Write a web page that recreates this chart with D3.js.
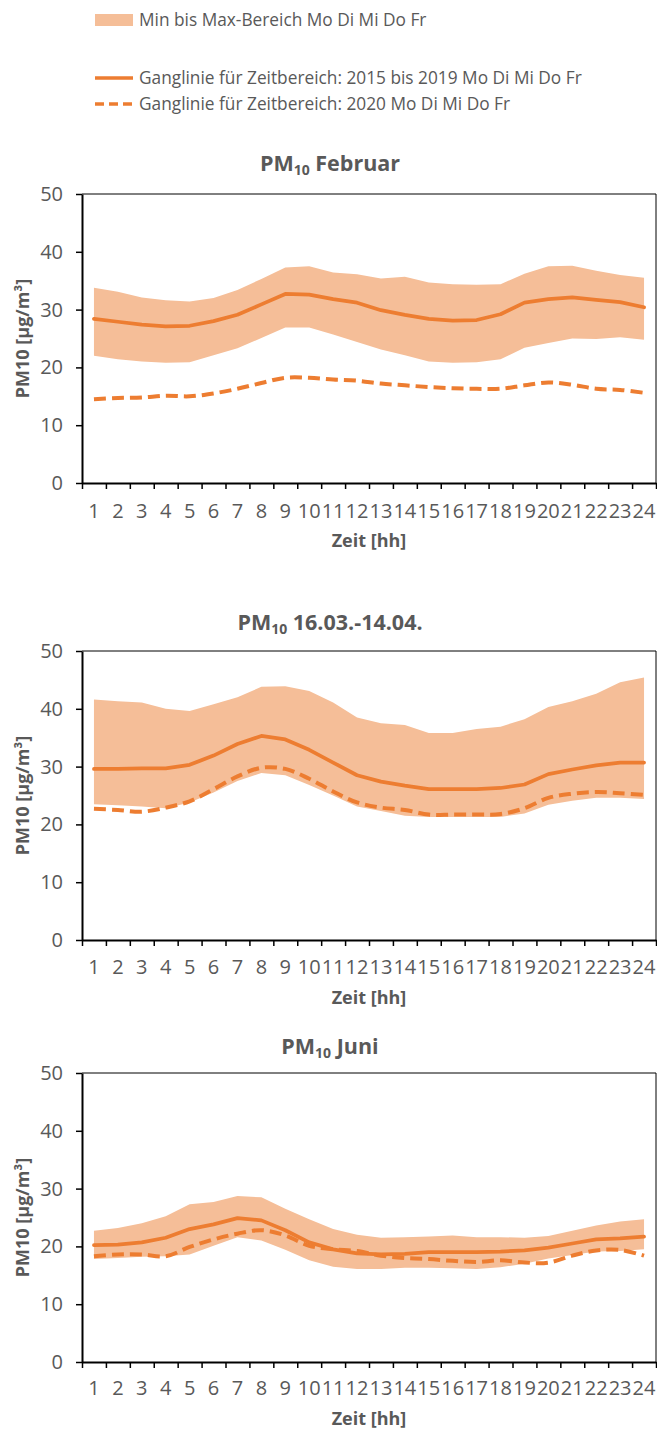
<!DOCTYPE html>
<html>
<head>
<meta charset="utf-8">
<script src="https://cdn.jsdelivr.net/npm/d3@7"></script>
<style>
  body { margin: 0; background: #fff; }
  svg { display: block; font-family: "Open Sans", sans-serif; }
</style>
</head>
<body>
<svg id="chart" width="657" height="1432"></svg>
<script>
const hours = [1,2,3,4,5,6,7,8,9,10,11,12,13,14,15,16,17,18,19,20,21,22,23,24];
const yTicks = [0, 10, 20, 30, 40, 50];

// PM10 Februar
const febMax  = [33.8,33.1,32.1,31.6,31.4,32.0,33.4,35.3,37.3,37.5,36.4,36.1,35.4,35.7,34.7,34.4,34.3,34.4,36.2,37.5,37.6,36.7,36.0,35.5];
const febMin  = [22.0,21.4,21.0,20.8,20.9,22.1,23.3,25.1,26.9,26.9,25.7,24.4,23.1,22.1,21.0,20.8,20.9,21.4,23.4,24.2,25.0,24.9,25.2,24.8];
const febMean = [28.4,27.9,27.4,27.1,27.2,28.0,29.1,30.9,32.7,32.6,31.8,31.2,29.9,29.1,28.4,28.1,28.2,29.2,31.2,31.8,32.1,31.7,31.3,30.4];
const feb2020 = [14.5,14.7,14.8,15.1,15.0,15.5,16.3,17.3,18.2,18.2,17.9,17.7,17.2,16.9,16.6,16.4,16.3,16.3,16.9,17.4,17.0,16.3,16.1,15.6];

// PM10 16.03.-14.04.
const marMax  = [41.6,41.3,41.1,40.0,39.6,40.8,42.0,43.8,43.9,43.1,41.1,38.5,37.5,37.2,35.8,35.8,36.5,36.9,38.2,40.3,41.3,42.6,44.6,45.4];
const marMin  = [23.5,23.3,23.1,22.8,23.8,25.5,27.5,28.9,28.5,26.8,25.0,23.1,22.3,21.5,21.3,21.3,21.3,21.3,21.9,23.4,24.1,24.6,24.6,24.4];
const marMean = [29.6,29.6,29.7,29.7,30.3,31.9,33.9,35.3,34.7,32.9,30.7,28.5,27.4,26.7,26.1,26.1,26.1,26.3,26.9,28.7,29.5,30.2,30.7,30.7];
const mar2020 = [22.7,22.5,22.2,22.9,24.0,26.1,28.3,29.8,29.6,27.9,25.7,23.8,22.9,22.5,21.7,21.7,21.7,21.8,22.8,24.6,25.3,25.6,25.4,25.1];

// PM10 Juni
const junMax  = [22.7,23.2,24.0,25.2,27.3,27.7,28.7,28.5,26.5,24.7,23.0,22.0,21.5,21.6,21.7,21.9,21.6,21.6,21.5,21.8,22.7,23.6,24.3,24.7];
const junMin  = [17.8,18.0,18.2,18.3,18.6,20.1,21.6,21.0,19.4,17.6,16.5,16.1,16.1,16.3,16.3,16.2,16.1,16.4,17.0,17.9,18.5,19.1,19.2,19.5];
const junMean = [20.2,20.3,20.7,21.5,23.0,23.8,24.9,24.5,22.8,20.7,19.5,18.8,18.6,18.7,19.0,19.0,19.0,19.1,19.3,19.8,20.5,21.2,21.4,21.7];
const jun2020 = [18.3,18.6,18.6,18.3,19.9,21.2,22.2,22.8,21.9,20.1,19.5,19.2,18.4,18.0,17.8,17.5,17.3,17.6,17.2,17.2,18.4,19.3,19.4,18.4];

const legendLabels = [
  "Min bis Max-Bereich Mo Di Mi Do Fr",
  "Ganglinie für Zeitbereich: 2015 bis 2019 Mo Di Mi Do Fr",
  "Ganglinie für Zeitbereich: 2020 Mo Di Mi Do Fr"
];

const lineColor = "#ED7D31";
const bandColor = "#F5BE98";
const textColor = "#595959";

const svg = d3.select("#chart");

// legend
const legend = svg.append("g");
legend.append("rect")
  .attr("x", 95).attr("y", 14).attr("width", 38).attr("height", 12)
  .attr("fill", bandColor);
legend.append("line")
  .attr("x1", 95).attr("x2", 133).attr("y1", 78).attr("y2", 78)
  .attr("stroke", lineColor).attr("stroke-width", 3.5);
legend.append("line")
  .attr("x1", 95).attr("x2", 133).attr("y1", 104).attr("y2", 104)
  .attr("stroke", lineColor).attr("stroke-width", 3.5)
  .attr("stroke-dasharray", "9,5");
[20, 78, 104].forEach((y, i) => {
  legend.append("text")
    .attr("x", 139).attr("y", y).attr("dy", "0.35em")
    .attr("font-size", "17.3px").attr("fill", textColor)
    .text(legendLabels[i]);
});

function drawChart(cfg) {
  const left = 82, right = 656;
  const x = d3.scaleBand().domain(hours).range([left, right]);
  const xEdge = d3.scaleLinear().domain([0, 24]).range([left, right]);
  const y = d3.scaleLinear().domain([0, 50]).range([cfg.bottom, cfg.top]);
  const cx = d => x(d) + x.bandwidth() / 2;

  const g = svg.append("g");

  // band
  const area = d3.area()
    .x((d, i) => cx(hours[i]))
    .y0((d, i) => y(cfg.min[i]))
    .y1((d, i) => y(cfg.max[i]));
  g.append("path").datum(cfg.max).attr("d", area).attr("fill", bandColor);

  // mean 2015-2019
  const line = d3.line().x((d, i) => cx(hours[i])).y(d => y(d));
  g.append("path").datum(cfg.mean)
    .attr("d", line)
    .attr("fill", "none").attr("stroke", lineColor)
    .attr("stroke-width", 3.75).attr("stroke-linejoin", "round").attr("stroke-linecap", "round");

  // 2020 smoothed dashed
  const smooth = d3.line().x((d, i) => cx(hours[i])).y(d => y(d)).curve(d3.curveCatmullRom.alpha(0.5));
  g.append("path").datum(cfg.y2020)
    .attr("d", smooth)
    .attr("fill", "none").attr("stroke", lineColor)
    .attr("stroke-width", 4).attr("stroke-dasharray", "12,6");

  // frame top/right
  g.append("line").attr("x1", left).attr("x2", right).attr("y1", cfg.top).attr("y2", cfg.top)
    .attr("stroke", "#000").attr("stroke-width", 1);
  g.append("line").attr("x1", right).attr("x2", right).attr("y1", cfg.top).attr("y2", cfg.bottom)
    .attr("stroke", "#000").attr("stroke-width", 1);

  // y axis
  const yAxis = g.append("g")
    .attr("transform", `translate(${left},0)`)
    .call(d3.axisLeft(y).tickValues(yTicks).tickSize(6).tickSizeOuter(0).tickPadding(13));
  yAxis.select(".domain").attr("stroke", "#000").attr("stroke-width", 2);
  yAxis.selectAll(".tick line").attr("stroke", "#000").attr("stroke-width", 1.5);
  yAxis.selectAll("text").attr("font-size", "20px").attr("fill", textColor)
    .attr("font-family", "Open Sans, sans-serif");

  // x axis ticks
  const xTicksG = g.append("g")
    .attr("transform", `translate(0,${cfg.bottom})`)
    .call(d3.axisBottom(xEdge).tickValues(d3.range(25)).tickSize(6).tickSizeOuter(0).tickFormat(""));
  xTicksG.select(".domain").attr("stroke", "#000").attr("stroke-width", 2);
  xTicksG.selectAll(".tick line").attr("stroke", "#000").attr("stroke-width", 1.5);

  // x labels
  const xLab = g.append("g")
    .attr("transform", `translate(0,${cfg.bottom})`)
    .call(d3.axisBottom(x).tickSize(0));
  xLab.select(".domain").remove();
  xLab.selectAll("text")
    .attr("y", cfg.labelY - cfg.bottom).attr("dy", "0.35em")
    .attr("font-size", "20px").attr("fill", textColor)
    .attr("font-family", "Open Sans, sans-serif");

  // x title
  g.append("text")
    .attr("x", (left + right) / 2).attr("y", cfg.xTitleY).attr("dy", "0.35em")
    .attr("text-anchor", "middle").attr("font-weight", "bold")
    .attr("font-size", "18px").attr("fill", textColor)
    .text("Zeit [hh]");

  // y title
  g.append("text")
    .attr("transform", `translate(23,${(cfg.top + cfg.bottom) / 2}) rotate(-90)`)
    .attr("dy", "0.35em")
    .attr("text-anchor", "middle").attr("font-weight", "bold")
    .attr("font-size", "18px").attr("fill", textColor)
    .text("PM10 [µg/m³]");

  // chart title
  const t = g.append("text")
    .attr("x", 330).attr("y", cfg.titleY).attr("dy", "0.35em")
    .attr("text-anchor", "middle").attr("font-weight", "bold")
    .attr("font-size", "21.5px").attr("fill", textColor);
  t.append("tspan").text("PM");
  t.append("tspan").attr("font-size", "14px").attr("dy", "4").text("10");
  t.append("tspan").attr("dy", "-4").text(" " + cfg.title);
}

drawChart({ title: "Februar", top: 194, bottom: 483, titleY: 163, labelY: 511, xTitleY: 541,
  max: febMax, min: febMin, mean: febMean, y2020: feb2020 });
drawChart({ title: "16.03.-14.04.", top: 651, bottom: 940, titleY: 622, labelY: 967, xTitleY: 998,
  max: marMax, min: marMin, mean: marMean, y2020: mar2020 });
drawChart({ title: "Juni", top: 1073, bottom: 1362, titleY: 1046, labelY: 1388, xTitleY: 1419,
  max: junMax, min: junMin, mean: junMean, y2020: jun2020 });
</script>
</body>
</html>
